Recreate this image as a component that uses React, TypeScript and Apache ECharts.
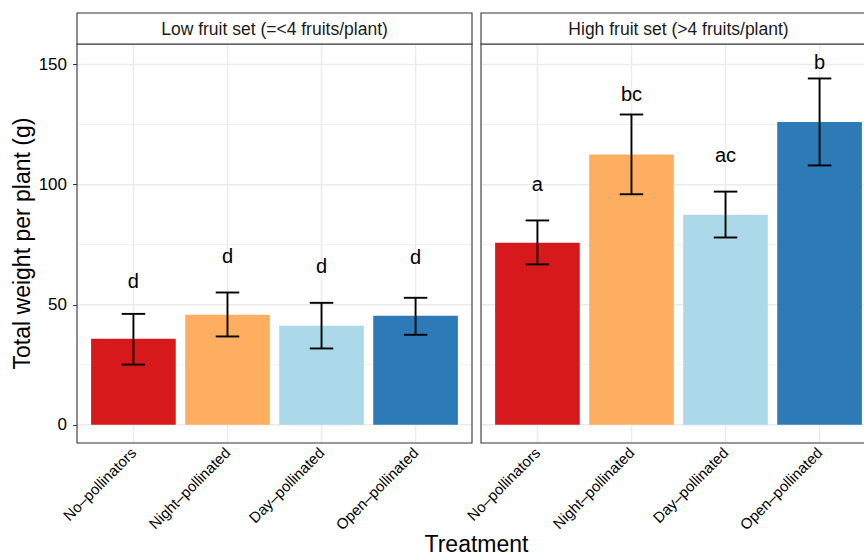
import React, { useEffect, useRef } from "react";
import * as echarts from "echarts";

const categories = ["No–pollinators", "Night–pollinated", "Day–pollinated", "Open–pollinated"];
const panelTitles = ["Low fruit set (=<4 fruits/plant)", "High fruit set (>4 fruits/plant)"];

const lowMean = [35.8, 45.8, 41.3, 45.4];
const lowLower = [25.1, 36.8, 31.8, 37.5];
const lowUpper = [46.2, 55.1, 50.8, 52.9];
const lowLetters = ["d", "d", "d", "d"];
const lowLetterY = [60.0, 70.3, 66.1, 70.0];

const highMean = [75.8, 112.5, 87.5, 126.1];
const highLower = [66.8, 96.0, 78.0, 108.0];
const highUpper = [85.1, 129.2, 97.1, 144.2];
const highLetters = ["a", "bc", "ac", "b"];
const highLetterY = [100.4, 137.6, 112.2, 151.1];

const barColors = ["#D7191C", "#FDAE61", "#ABD9E9", "#2C7BB6"];
const yMajor = [0, 50, 100, 150];
const yMinor = [25, 75, 125];
const xTicks = [1, 2, 3, 4];

const FONT = "'Liberation Sans', Arial, Helvetica, sans-serif";

export default function App() {
  const ref = useRef<HTMLDivElement>(null);
  useEffect(() => {
    const chart = echarts.init(ref.current!, null, { renderer: "svg" });
    const panels = [
      { mean: lowMean, lower: lowLower, upper: lowUpper, letters: lowLetters, letterY: lowLetterY },
      { mean: highMean, lower: highLower, upper: highUpper, letters: highLetters, letterY: highLetterY },
    ];
    const panelLefts = [77, 481];
    const panelW = 395;
    const panelTop = 44;
    const panelH = 399;
    const stripTop = 13;

    const grids = panelLefts.map((l) => ({ left: l, top: panelTop, width: panelW, height: panelH, show: false }));

    const xAxes = panelLefts.map((_, i) => ({
      type: "value",
      gridIndex: i,
      min: 0.4,
      max: 4.6,
      axisLine: { show: false },
      splitLine: { show: false },
      axisTick: { show: true, customValues: xTicks, length: 4, lineStyle: { color: "#333333", width: 1 } },
      axisLabel: {
        customValues: xTicks,
        formatter: (v: number) => (Number.isInteger(v) ? categories[v - 1] ?? "" : ""),
        rotate: 45,
        fontSize: 15,
        color: "#000000",
        fontFamily: FONT,
        margin: 7,
      },
    }));

    const yAxes = panelLefts.map((_, i) => ({
      type: "value",
      gridIndex: i,
      min: -7.55,
      max: 158.55,
      axisLine: { show: false },
      splitLine: { show: false },
      axisTick: i === 0 ? { show: true, customValues: yMajor, length: 4, lineStyle: { color: "#333333", width: 1 } } : { show: false },
      axisLabel: i === 0 ? { customValues: yMajor, fontSize: 17, color: "#000000", fontFamily: FONT, margin: 10 } : { show: false },
      name: i === 0 ? "Total weight per plant (g)" : "",
      nameLocation: "middle",
      nameGap: 44,
      nameTextStyle: { fontSize: 23, color: "#000000", fontFamily: FONT },
    }));

    const series: any[] = [];
    panels.forEach((p, i) => {
      const gridData: number[][] = [
        ...yMajor.map((v) => [0, v, 1.5]),
        ...yMinor.map((v) => [0, v, 0.8]),
        ...xTicks.map((v) => [1, v, 1.5]),
      ];
      series.push({
        type: "custom",
        xAxisIndex: i,
        yAxisIndex: i,
        silent: true,
        z: 1,
        data: gridData,
        renderItem: (params: any, api: any) => {
          const cs = params.coordSys;
          const kind = api.value(0);
          const v = api.value(1);
          const w = api.value(2);
          if (kind === 0) {
            const y = api.coord([1, v])[1];
            return { type: "line", shape: { x1: cs.x, y1: y, x2: cs.x + cs.width, y2: y }, style: { stroke: "#EBEBEB", lineWidth: w } };
          }
          const x = api.coord([v, 0])[0];
          return { type: "line", shape: { x1: x, y1: cs.y, x2: x, y2: cs.y + cs.height }, style: { stroke: "#EBEBEB", lineWidth: w } };
        },
      });
      series.push({
        type: "bar",
        xAxisIndex: i,
        yAxisIndex: i,
        barWidth: (0.9 * panelW) / 4.2,
        z: 2,
        data: p.mean.map((m, j) => ({ value: [xTicks[j], m], itemStyle: { color: barColors[j] } })),
      });
      series.push({
        type: "custom",
        xAxisIndex: i,
        yAxisIndex: i,
        z: 3,
        silent: true,
        encode: { x: 0, y: [1, 2] },
        data: p.mean.map((_, j) => [xTicks[j], p.lower[j], p.upper[j]]),
        renderItem: (_params: any, api: any) => {
          const x = api.value(0);
          const lo = api.coord([x, api.value(1)]);
          const hi = api.coord([x, api.value(2)]);
          const half = api.size([0.25, 0])[0] / 2;
          const style = { stroke: "#000000", lineWidth: 1.9 };
          return {
            type: "group",
            children: [
              { type: "line", shape: { x1: lo[0], y1: lo[1], x2: hi[0], y2: hi[1] }, style },
              { type: "line", shape: { x1: lo[0] - half, y1: lo[1], x2: lo[0] + half, y2: lo[1] }, style },
              { type: "line", shape: { x1: hi[0] - half, y1: hi[1], x2: hi[0] + half, y2: hi[1] }, style },
            ],
          };
        },
      });
      series.push({
        type: "custom",
        xAxisIndex: i,
        yAxisIndex: i,
        z: 4,
        silent: true,
        data: p.letterY.map((y, j) => [xTicks[j], y, j]),
        renderItem: (_params: any, api: any) => {
          const pos = api.coord([api.value(0), api.value(1)]);
          return {
            type: "text",
            x: pos[0],
            y: pos[1],
            style: { text: p.letters[api.value(2)], fontSize: 20, fontFamily: FONT, fill: "#000000", align: "center", verticalAlign: "middle" },
          };
        },
      });
    });

    const graphics: any[] = [];
    panelLefts.forEach((l, i) => {
      graphics.push({
        type: "rect",
        z: 100,
        silent: true,
        shape: { x: l, y: panelTop, width: panelW, height: panelH },
        style: { fill: "none", stroke: "#333333", lineWidth: 1.1 },
      });
      graphics.push({
        type: "rect",
        z: 100,
        silent: true,
        shape: { x: l, y: stripTop, width: panelW, height: panelTop - stripTop },
        style: { fill: "#FFFFFF", stroke: "#333333", lineWidth: 1.1 },
      });
      graphics.push({
        type: "text",
        z: 101,
        silent: true,
        x: l + panelW / 2,
        y: (stripTop + panelTop) / 2,
        style: { text: panelTitles[i], fontSize: 17.5, fontFamily: FONT, fill: "#1A1A1A", align: "center", verticalAlign: "middle" },
      });
    });
    graphics.push({
      type: "text",
      silent: true,
      x: (panelLefts[0] + panelLefts[1] + panelW) / 2,
      y: 544,
      style: { text: "Treatment", fontSize: 23, fontFamily: FONT, fill: "#000000", align: "center", verticalAlign: "middle" },
    });

    chart.setOption({
      animation: false,
      backgroundColor: "#FFFFFF",
      textStyle: { fontFamily: FONT },
      grid: grids,
      xAxis: xAxes,
      yAxis: yAxes,
      series,
      graphic: graphics,
    });
    return () => chart.dispose();
  }, []);

  return (
    <div style={{ position: "fixed", left: 0, top: 0, width: 864, height: 556, overflow: "hidden", background: "#fff" }}>
      <div ref={ref} style={{ width: 890, height: 556 }} />
    </div>
  );
}
